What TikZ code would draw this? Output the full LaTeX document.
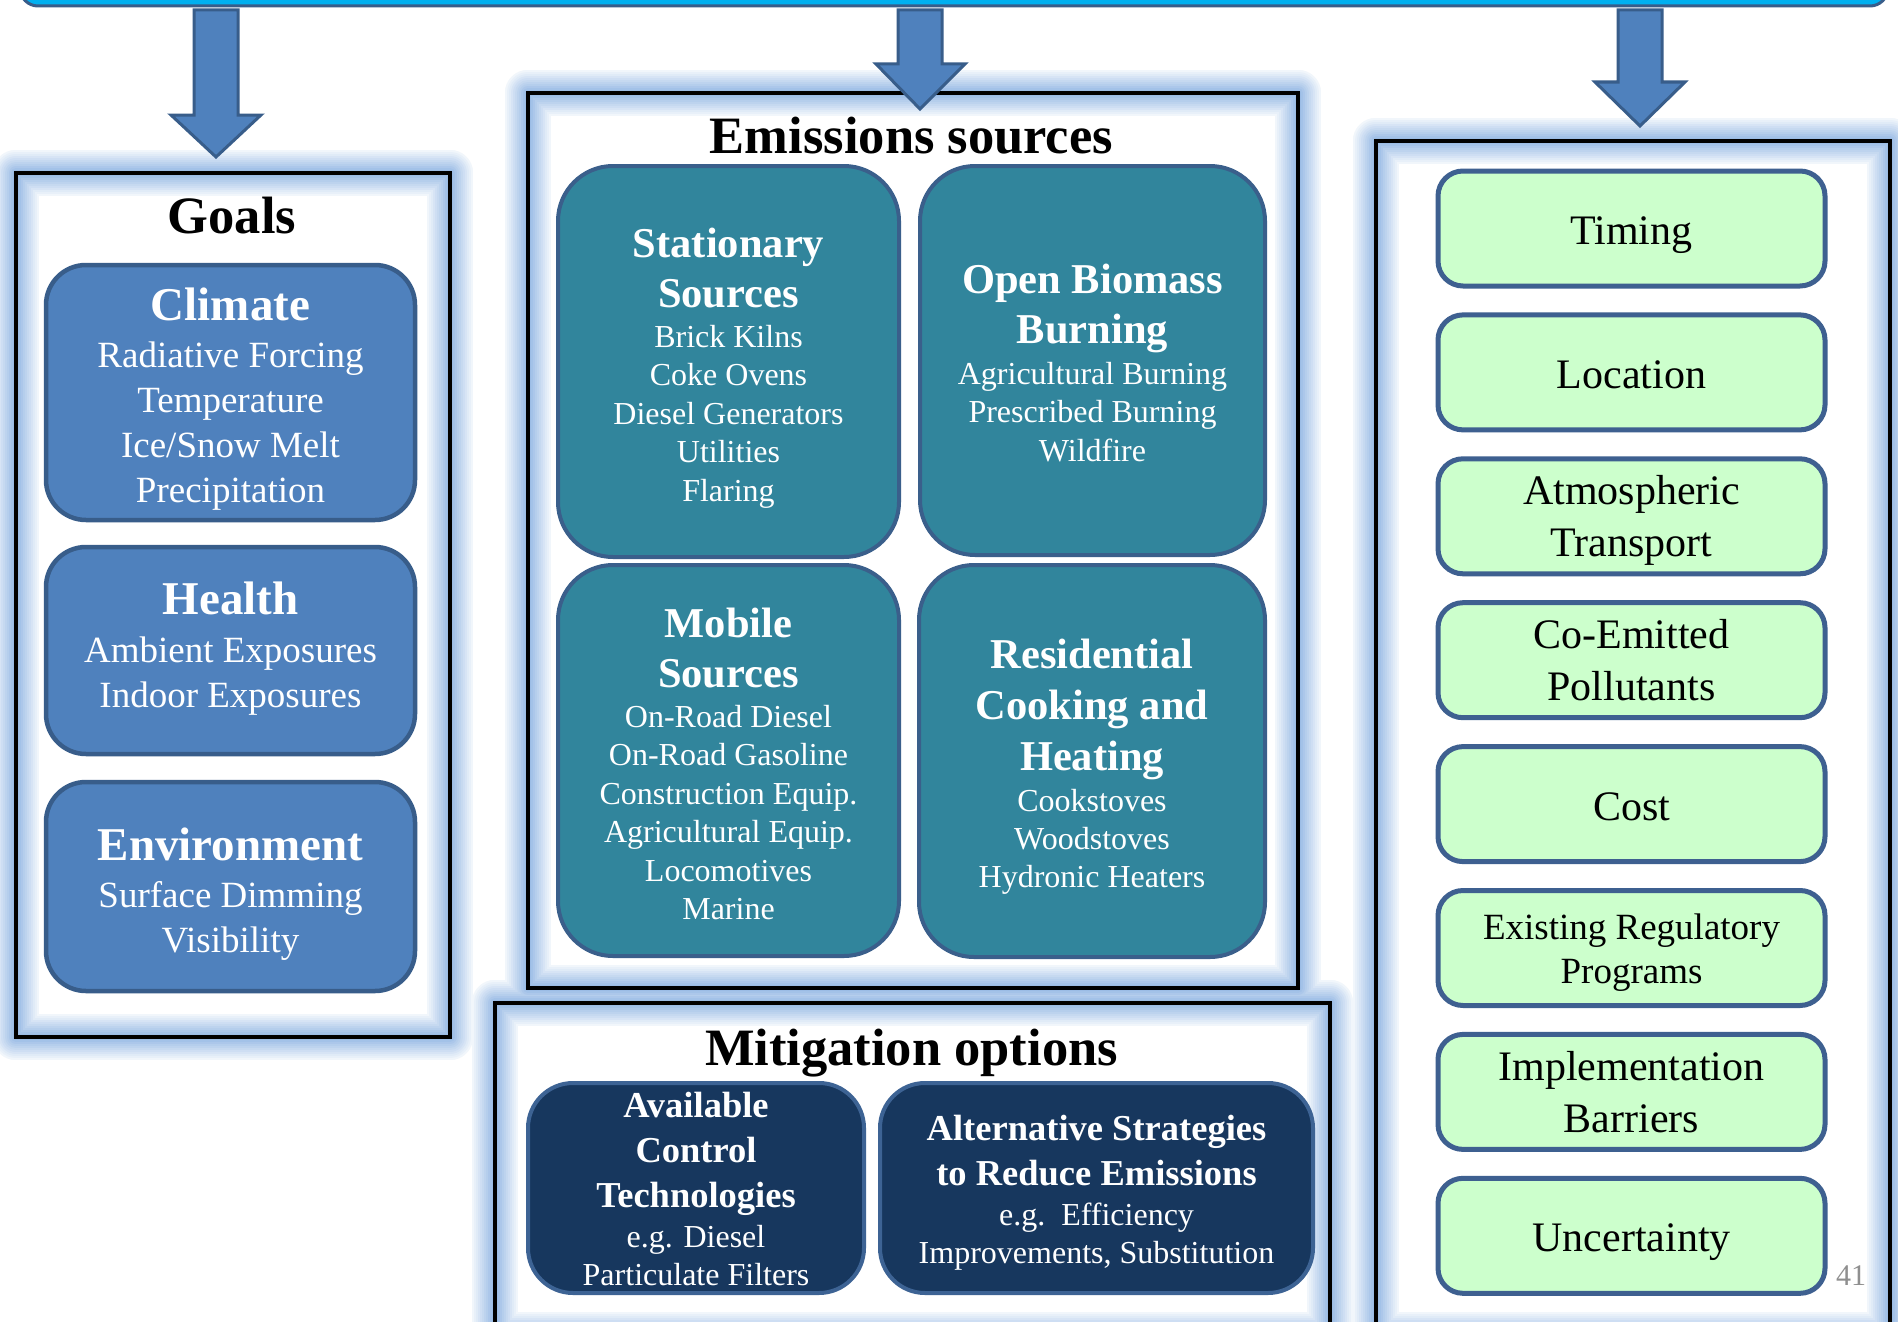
\documentclass[tikz,border=0pt]{standalone}
\usepackage{fontspec}
\setmainfont{Liberation Serif}
\definecolor{gfill}{HTML}{4F81BD}
\definecolor{gborder}{HTML}{385D8A}
\definecolor{teal}{HTML}{31859C}
\definecolor{tborder}{HTML}{3A5F8B}
\definecolor{navy}{HTML}{17375E}
\definecolor{nborder}{HTML}{3D6394}
\definecolor{grn}{HTML}{CCFFCC}
\definecolor{grnborder}{HTML}{3E6090}
\definecolor{barcyan}{HTML}{00B0F0}
\definecolor{glowc}{HTML}{8DB3E2}
\definecolor{pgnum}{HTML}{8F8F8F}
\newcommand\txtlines[6]{\foreach \t [count=\i from 0] in {#6}{\node[#5] (#1\i) at (#2,{#3+#4*\i}) {\t};}}
\tikzset{
  bl/.style={anchor=base, inner sep=0pt, outer sep=0pt},
  bigttl/.style={bl, text=black, font=\bfseries\fontsize{52.5}{60}\selectfont},
  gttl/.style={bl, text=white, font=\bfseries\fontsize{47}{56}\selectfont},
  gsub/.style={bl, text=white, font=\fontsize{37}{45}\selectfont},
  tttl/.style={bl, text=white, font=\bfseries\fontsize{42.5}{50}\selectfont},
  tsub/.style={bl, text=white, font=\fontsize{32}{38.5}\selectfont},
  nttl/.style={bl, text=white, font=\bfseries\fontsize{36.5}{45}\selectfont},
  nsub/.style={bl, text=white, font=\fontsize{32}{38}\selectfont},
  gtxt/.style={bl, text=black, font=\fontsize{42}{52}\selectfont},
  gtxts/.style={bl, text=black, font=\fontsize{37}{44}\selectfont},
  boxbase/.style={anchor=north west, inner sep=0pt, outer sep=0pt},
  goalbox/.style={boxbase, draw=gborder, fill=gfill, line width=4.5pt, rounded corners=40pt, minimum width=369pt},
  tealbox/.style={boxbase, draw=tborder, fill=teal, line width=4pt, rounded corners=55pt},
  navybox/.style={boxbase, draw=nborder, fill=navy, line width=4pt, rounded corners=45pt, minimum height=210pt},
  grnbox/.style={boxbase, draw=grnborder, fill=grn, line width=5pt, rounded corners=25pt, minimum width=387pt, minimum height=115pt},
  bigarrow/.style={fill=gfill, draw=gborder, line width=3pt, line join=miter},
  panelline/.style={draw=black, line width=4pt}
}
\begin{document}
\begin{tikzpicture}[x=1pt,y=-1pt]
\useasboundingbox (0,0) rectangle (1898,1322);
\clip (0,0) rectangle (1898,1322);
\fill[white] (0,0) rectangle (1898,1322);
% top bar
\draw[fill=barcyan, draw=gborder, line width=3pt, rounded corners=18pt] (20,-80) rectangle (1888,6);
% panels with soft glow
\foreach \w in {46,42,...,2}{
  \pgfmathtruncatemacro\gc{100-1.9*\w}
  \draw[glowc!\gc!white, line width=\w pt, line join=round]
    (16,173) rectangle (450,1037)
    (528,93) rectangle (1298,988)
    (495,1003) rectangle (1330,1335)
    (1376,141) rectangle (1890,1335);
  \ifnum\w=46
    \fill[white] (16,173) rectangle (450,1037) (528,93) rectangle (1298,988)
      (495,1003) rectangle (1330,1335) (1376,141) rectangle (1890,1335);
    \draw[glowc!\gc!white, line width=\w pt, line join=round]
      (16,173) rectangle (450,1037) (528,93) rectangle (1298,988)
      (495,1003) rectangle (1330,1335) (1376,141) rectangle (1890,1335);
  \fi
}
\draw[panelline] (16,173) rectangle (450,1037);
\draw[panelline] (528,93) rectangle (1298,988);
\draw[panelline] (495,1003) rectangle (1330,1335);
\draw[panelline] (1376,141) rectangle (1890,1335);
% panel titles
\node[bigttl] (goalsT) at (232,233) {Goals};
\node[bigttl] (emisT) at (911.5,153) {Emissions sources};
\node[bigttl] (mitT) at (911.5,1065) {Mitigation options};
% goals boxes
\node[goalbox, minimum height=255pt] (climate) at (46,265) {};
\node[goalbox, minimum height=207pt] (health) at (46,547) {};
\node[goalbox, minimum height=209pt] (environment) at (46,782) {};
\node[gttl] (climT) at (230.5,320) {Climate};
\txtlines{clS}{230.5}{367}{45}{gsub}{Radiative Forcing, Temperature, Ice/Snow Melt, Precipitation}
\node[gttl] (healthT) at (230.5,614) {Health};
\txtlines{heS}{230.5}{662}{45}{gsub}{Ambient Exposures, Indoor Exposures}
\node[gttl] (envT) at (230.5,860) {Environment};
\txtlines{enS}{230.5}{907}{45}{gsub}{Surface Dimming, Visibility}
% emission source boxes
\node[tealbox, minimum width=341pt, minimum height=391pt] (stationary) at (558,166) {};
\node[tealbox, minimum width=345pt, minimum height=389pt] (openburn) at (920,166) {};
\node[tealbox, minimum width=341pt, minimum height=391pt] (mobile) at (558,565) {};
\node[tealbox, minimum width=346pt, minimum height=392pt] (residential) at (919,565) {};
\txtlines{stT}{728.5}{257}{50}{tttl}{Stationary, Sources}
\txtlines{stS}{728.5}{347}{38.5}{tsub}{Brick Kilns, Coke Ovens, Diesel Generators, Utilities, Flaring}
\txtlines{obT}{1092.5}{293}{50}{tttl}{Open Biomass, Burning}
\txtlines{obS}{1092.5}{384}{38.5}{tsub}{Agricultural Burning, Prescribed Burning, Wildfire}
\txtlines{moT}{728.5}{637}{50}{tttl}{Mobile, Sources}
\txtlines{moS}{728.5}{727}{38.5}{tsub}{On-Road Diesel, On-Road Gasoline, Construction Equip., Agricultural Equip., Locomotives, Marine}
\txtlines{reT}{1092}{668}{51}{tttl}{Residential, Cooking and, Heating}
\txtlines{reS}{1092}{811}{38}{tsub}{Cookstoves, Woodstoves, Hydronic Heaters}
% mitigation boxes
\node[navybox, minimum width=336pt] (available) at (528,1083) {};
\node[navybox, minimum width=433pt] (alternative) at (880,1083) {};
\txtlines{avT}{696}{1117}{45}{nttl}{Available, Control, Technologies}
\txtlines{avS}{696}{1247}{38}{nsub}{e.g. Diesel, Particulate Filters}
\txtlines{alT}{1096.5}{1140}{45}{nttl}{Alternative Strategies, to Reduce Emissions}
\txtlines{alS}{1096.5}{1225}{38}{nsub}{e.g.\ \ Efficiency, {Improvements, Substitution}}
% right column
\node[grnbox] (timing) at (1438,171) {};
\node[grnbox] (location) at (1438,314.9) {};
\node[grnbox] (atmos) at (1438,458.8) {};
\node[grnbox] (coemit) at (1438,602.7) {};
\node[grnbox] (cost) at (1438,746.6) {};
\node[grnbox] (existing) at (1438,890.5) {};
\node[grnbox] (implement) at (1438,1034.4) {};
\node[grnbox] (uncert) at (1438,1178.3) {};
\node[gtxt] (timingT) at (1631.5,244.5) {Timing};
\node[gtxt] (locationT) at (1631.5,388) {Location};
\txtlines{atT}{1631.5}{504.5}{52}{gtxt}{Atmospheric, Transport}
\txtlines{coT}{1631.5}{648.5}{52}{gtxt}{Co-Emitted, Pollutants}
\node[gtxt] (costT) at (1631.5,820) {Cost};
\txtlines{exT}{1631.5}{939}{44}{gtxts}{Existing Regulatory, Programs}
\txtlines{imT}{1631.5}{1080}{52}{gtxt}{Implementation, Barriers}
\node[gtxt] (uncertT) at (1631.5,1251.5) {Uncertainty};
\node[bl, text=pgnum, font=\fontsize{30}{36}\selectfont] (pagenum) at (1851,1285) {41};
% arrows
\draw[bigarrow] (194,10) -- (238,10) -- (238,115) -- (261,115) -- (216,157) -- (171,115) -- (194,115) -- cycle;
\draw[bigarrow] (898,10) -- (942,10) -- (942,64) -- (965,64) -- (920,109) -- (876,64) -- (898,64) -- cycle;
\draw[bigarrow] (1618,10) -- (1662,10) -- (1662,82) -- (1685,82) -- (1640,126) -- (1595,82) -- (1618,82) -- cycle;
\end{tikzpicture}
\end{document}
